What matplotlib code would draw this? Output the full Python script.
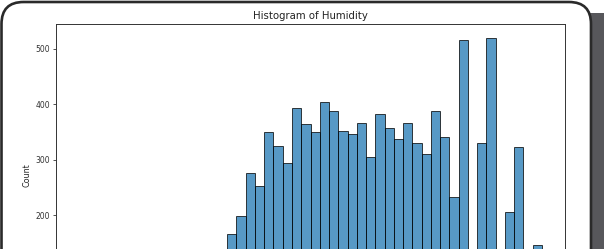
import numpy as np
import matplotlib
matplotlib.use("Agg")
import matplotlib.pyplot as plt
from matplotlib.patches import FancyBboxPatch

# ---------------------------
# Data
# ---------------------------
# humidity from 0 to 1 in 50 bins; bins 0-15 sit below the crop
n_bins = 50
hum_min, hum_max = 0.0, 1.0
counts = [
    22, 1, 3, 5, 8, 12, 18, 25, 35, 45,
    58, 70, 85, 100, 118, 140, 167, 199, 277, 253,
    350, 326, 294, 394, 364, 350, 404, 388, 353, 346,
    367, 306, 382, 358, 338, 366, 331, 311, 388, 342,
    234, 517, 0, 330, 519, 0, 207, 324, 0, 147,
]
title = "Histogram of Humidity"
y_label = "Count"
y_ticks = [200, 300, 400, 500]

W, H = 604, 249
fig = plt.figure(figsize=(W / 100, H / 100), dpi=100)
fig.patch.set_facecolor("white")

# ---------------------------
# Card frame + drop shadow
# ---------------------------
bg = fig.add_axes([0, 0, 1, 1], zorder=0)
bg.set_xlim(0, W)
bg.set_ylim(H, 0)
bg.axis("off")
bg.add_patch(FancyBboxPatch((14, 13), 620, 320,
                            boxstyle="round,pad=0,rounding_size=22",
                            facecolor="#57575b", edgecolor="none"))
bg.add_patch(FancyBboxPatch((1.5, 2), 589.5, 320,
                            boxstyle="round,pad=0,rounding_size=22",
                            facecolor="white", edgecolor="#2a2a2a",
                            linewidth=1.9))

# ---------------------------
# Histogram axes (bottom cut off by the crop)
# ---------------------------
ax_l, ax_r, ax_t, ax_b = 56, 565, 24, 326.5
ax = fig.add_axes([ax_l / W, (H - ax_b) / H, (ax_r - ax_l) / W, (ax_b - ax_t) / H],
                  zorder=1)

edges = np.linspace(hum_min, hum_max, n_bins + 1)
ax.bar(edges[:-1], counts, width=np.diff(edges), align="edge",
       facecolor="#1f77b4", edgecolor="black", alpha=0.75, linewidth=0.7)

ax.set_xlim(-0.05, 1.05)
ax.set_ylim(0, max(counts) * 1.05)
ax.set_yticks(y_ticks)
ax.set_yticklabels([str(t) for t in y_ticks])
ax.tick_params(axis="y", labelsize=5.5, length=2.5, width=0.6, pad=1.5,
               colors="#333333")
ax.tick_params(axis="x", labelbottom=False, length=0)
for s in ax.spines.values():
    s.set_linewidth(0.7)
    s.set_color("#333333")

ax.set_ylabel(y_label, fontsize=5.8, labelpad=3, color="#222222")
ax.set_title(title, fontsize=7.3, pad=3.5, color="#222222")

plt.savefig("out.png", dpi=100)
plt.close()
